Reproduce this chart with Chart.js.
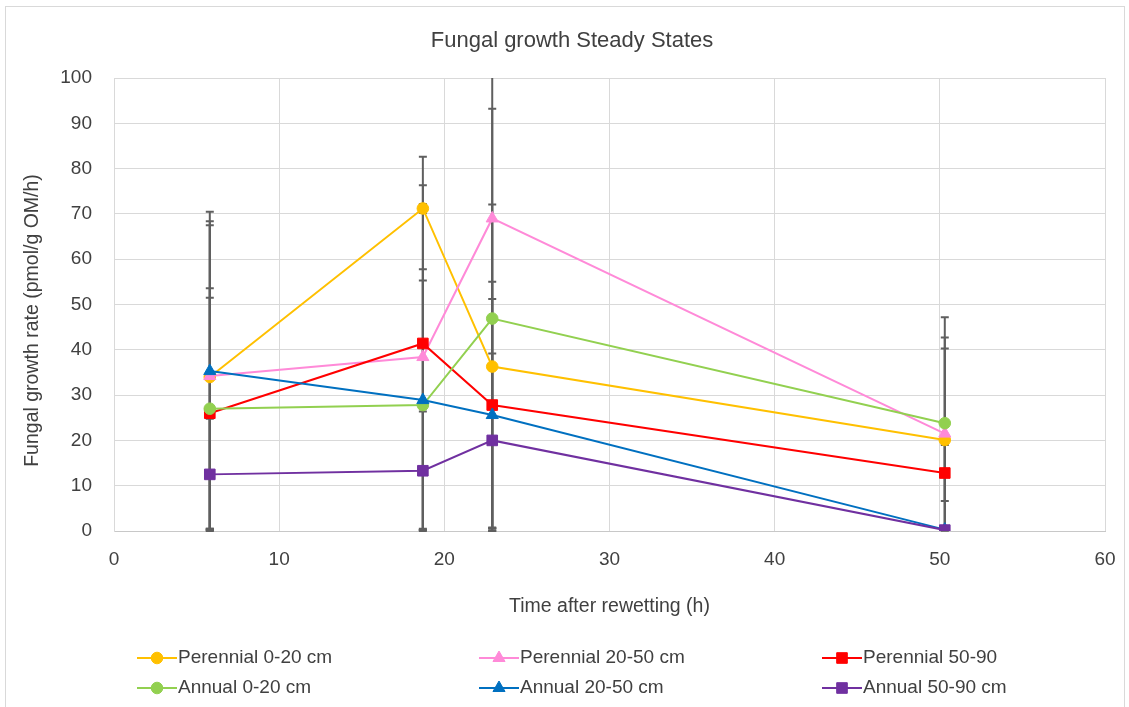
<!DOCTYPE html>
<html>
<head>
<meta charset="utf-8">
<title>Fungal growth Steady States</title>
<script src="https://cdn.jsdelivr.net/npm/chart.js@4.4.1/dist/chart.umd.min.js"></script>
<style>
  html, body { margin: 0; padding: 0; background: #fff; }
  #wrap { width: 1129px; height: 707px; }
</style>
</head>
<body>
<div id="wrap"><canvas id="fungalChart" width="1129" height="707"></canvas></div>
<script>
// sampling times (h after rewetting)
const hours = [5.8, 18.7, 22.9, 50.3];

// fungal growth rate, pmol/g OM/h
const perennial0to20 = [34.0, 71.2, 36.3, 20.1];
const perennial20to50 = [34.2, 38.4, 69.0, 21.5];
const perennial50to90 = [26.0, 41.4, 27.8, 12.8];
const annual0to20 = [27.0, 27.8, 46.9, 23.8];
const annual20to50 = [35.3, 28.9, 25.6, 0.3];
const annual50to90 = [12.5, 13.3, 20.0, 0.2];

// error bar sizes (+/-)
const perennial0to20Err = [33.5, 1.0, 35.8, 20.2];
const perennial20to50Err = [34.2, 37.9, 69.0, 21.2];
const perennial50to90Err = [25.5, 41.2, 27.2, 6.2];
const annual0to20Err = [26.6, 27.5, 46.3, 23.4];
const annual20to50Err = [35.2, 28.9, 25.6, 0.2];
const annual50to90Err = [12.3, 13.1, 19.2, 0.1];

const seriesNames = ["Perennial 0-20 cm", "Perennial 20-50 cm", "Perennial 50-90",
  "Annual 0-20 cm", "Annual 20-50 cm", "Annual 50-90 cm"];

const FONT = "'Liberation Sans', Arial, sans-serif";
const TEXT = "#404040";
const GRID = "#d9d9d9";

const series = [
  { values: perennial0to20, err: perennial0to20Err, color: "#ffc000", style: "circle", r: 5.8 },
  { values: perennial20to50, err: perennial20to50Err, color: "#ff8ad8", style: "triangle", r: 7 },
  { values: perennial50to90, err: perennial50to90Err, color: "#ff0000", style: "rect", r: 7.5 },
  { values: annual0to20, err: annual0to20Err, color: "#92d050", style: "circle", r: 5.8 },
  { values: annual20to50, err: annual20to50Err, color: "#0070c0", style: "triangle", r: 7 },
  { values: annual50to90, err: annual50to90Err, color: "#7030a0", style: "rect", r: 7.5 },
];

// error bars under the lines
const errorBars = {
  id: "errorBars",
  beforeDatasetsDraw(chart) {
    const { ctx, chartArea: area, scales: { y } } = chart;
    ctx.save();
    ctx.strokeStyle = "#5f5f5f";
    ctx.lineWidth = 2;
    chart.data.datasets.forEach((ds, i) => {
      const meta = chart.getDatasetMeta(i);
      ds.errors.forEach((e, j) => {
        const pt = meta.data[j];
        const v = ds.data[j].y;
        const hiVal = v + e, loVal = v - e;
        const yHi = Math.max(y.getPixelForValue(hiVal), area.top);
        const yLo = Math.min(y.getPixelForValue(loVal), area.bottom);
        ctx.beginPath();
        ctx.moveTo(pt.x, yHi);
        ctx.lineTo(pt.x, yLo);
        if (hiVal <= y.max) { ctx.moveTo(pt.x - 4, yHi); ctx.lineTo(pt.x + 4, yHi); }
        if (loVal >= y.min) { ctx.moveTo(pt.x - 4, yLo); ctx.lineTo(pt.x + 4, yLo); }
        ctx.stroke();
      });
    });
    ctx.restore();
  }
};

// titles, legend and outer frame
const extras = {
  id: "extras",
  afterDraw(chart) {
    const { ctx, chartArea: area } = chart;
    ctx.save();
    ctx.fillStyle = TEXT;
    ctx.textAlign = "center";
    ctx.textBaseline = "middle";
    ctx.font = "22px " + FONT;
    ctx.fillText("Fungal growth Steady States", 572, 41);
    ctx.font = "19.5px " + FONT;
    ctx.translate(33, (area.top + area.bottom) / 2 + 16);
    ctx.rotate(-Math.PI / 2);
    ctx.fillText("Fungal growth rate (pmol/g OM/h)", 0, 0);
    ctx.restore();

    const cols = [137, 479, 822];
    const rows = [658, 688];
    ctx.save();
    ctx.font = "19px " + FONT;
    ctx.textBaseline = "middle";
    ctx.textAlign = "left";
    chart.data.datasets.forEach((ds, i) => {
      const x0 = cols[i % 3], yy = rows[Math.floor(i / 3)];
      ctx.strokeStyle = ds.borderColor;
      ctx.fillStyle = ds.borderColor;
      ctx.lineWidth = 2;
      ctx.beginPath();
      ctx.moveTo(x0, yy);
      ctx.lineTo(x0 + 40, yy);
      ctx.stroke();
      ctx.lineWidth = 1;
      Chart.helpers.drawPoint(ctx, { pointStyle: ds.pointStyle, radius: ds.pointRadius, borderWidth: 1, rotation: 0 }, x0 + 20, yy);
      ctx.fillStyle = TEXT;
      ctx.fillText(ds.label, x0 + 41, yy);
    });
    ctx.restore();

    ctx.save();
    ctx.strokeStyle = GRID;
    ctx.lineWidth = 1;
    ctx.strokeRect(5.5, 6.5, 1119, 720);
    ctx.restore();
  }
};

const datasets = series.map((s, i) => ({
  label: seriesNames[i],
  data: hours.map((h, j) => ({ x: h, y: s.values[j] })),
  errors: s.err,
  borderColor: s.color,
  backgroundColor: s.color,
  borderWidth: 2,
  pointStyle: s.style,
  pointRadius: s.r,
  pointHoverRadius: s.r,
  pointBorderWidth: 1,
  showLine: true,
  tension: 0,
  order: series.length - i,
}));

new Chart(document.getElementById("fungalChart").getContext("2d"), {
  type: "scatter",
  data: { datasets },
  options: {
    responsive: false,
    animation: false,
    layout: { padding: { left: 0, right: 24, top: 78, bottom: 80 } },
    plugins: {
      legend: { display: false },
      tooltip: { enabled: false },
      title: { display: false },
    },
    scales: {
      x: {
        type: "linear",
        min: 0,
        max: 60,
        ticks: { stepSize: 10, padding: 17, color: TEXT, font: { family: FONT, size: 19 } },
        grid: { color: GRID, drawTicks: false },
        border: { color: "#c8c8c8" },
        title: {
          display: true,
          text: "Time after rewetting (h)",
          color: TEXT,
          font: { family: FONT, size: 19.5 },
          padding: { top: 0, bottom: 9 },
        },
        afterFit: (s) => { s.height = 96; s.paddingLeft = 0; s.paddingRight = 0; },
      },
      y: {
        min: 0,
        max: 100,
        ticks: { stepSize: 10, padding: 22, color: TEXT, font: { family: FONT, size: 19 } },
        grid: { color: GRID, drawTicks: false },
        border: { color: GRID },
        afterFit: (s) => { s.width = 114; s.paddingTop = 0; s.paddingBottom = 0; },
      },
    },
  },
  plugins: [errorBars, extras],
});
</script>
</body>
</html>
